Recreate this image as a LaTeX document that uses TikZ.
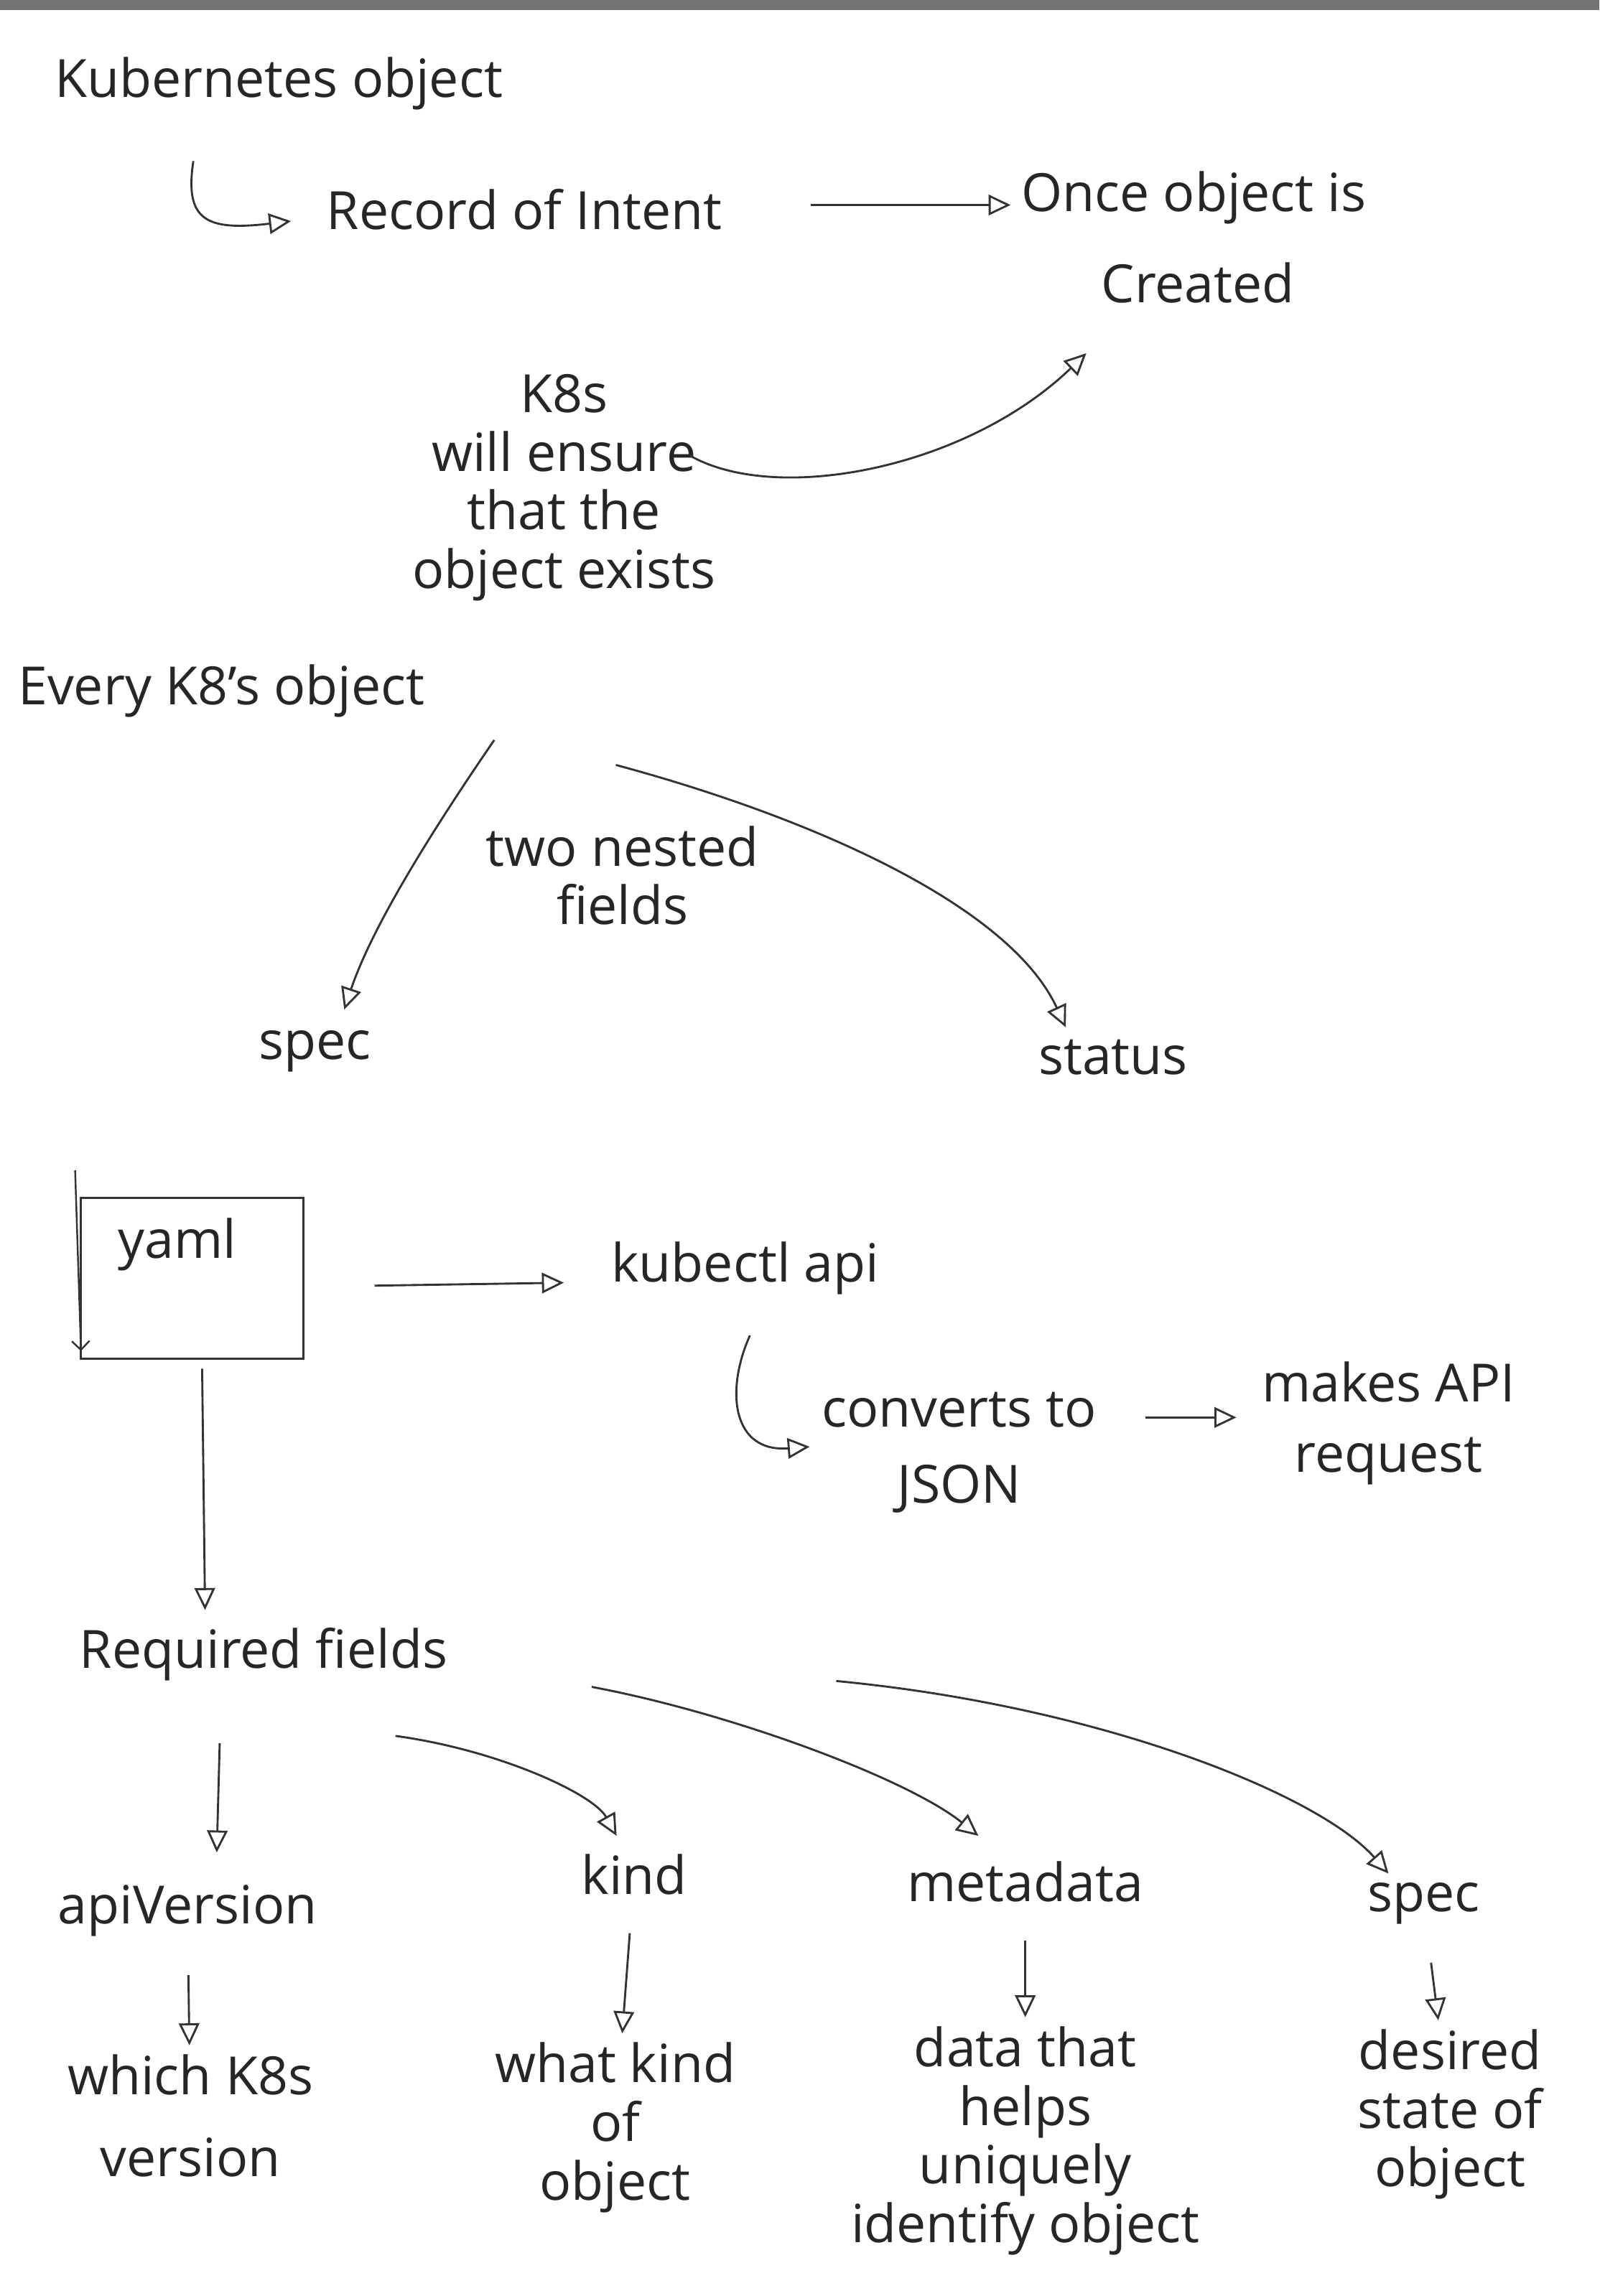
\documentclass[tikz,border=0pt]{standalone}
\usepackage{fontspec}
\setmainfont{Open Sans}
\usetikzlibrary{arrows.meta,calc}
\tikzset{
  hw/.style={font=\fontsize{18}{20}\selectfont, inner sep=1pt, text=black!85, align=center},
  hwarrow/.style={draw=black!80, line width=0.7pt, -{Triangle[open,length=7.5pt,width=7pt]}},
  downarrow/.style={hwarrow, shorten <=12pt, shorten >=2pt},
}

\begin{document}
\begin{tikzpicture}[x=0.5pt,y=-0.5pt]
\useasboundingbox (0,0) rectangle (1092,1568);
\fill[black!55] (0,0) rectangle (1092,7);

\node[hw, anchor=west] (title) at (35,57) {Kubernetes object};
\node[hw] (record) at (358,143) {Record of Intent};
\node[hw, anchor=west] (once) at (695,135) {Once object is};
\node[hw] (created) at (818,193) {Created};
\node[hw] (ensure) at (385,333) {K8s\\will ensure\\that the\\object exists};
\coordinate (hookA) at (132,110);
\draw[hwarrow] (hookA) .. controls (126,150) and (140,158) .. ($(record.west)+(-22,8)$);
\draw[hwarrow] ($(record.east)+(58,-3)$) -- ($(once.west)+(-5,5)$);
\draw[hwarrow] ($(ensure.east)+(-20,-22)$) .. controls (530,345) and (660,320) .. ($(created.south west)+(-8,32)$);

\node[hw, anchor=west] (every) at (10,472) {Every K8's object};
\node[hw] (nested) at (425,598) {two nested\\fields};
\node[hw] (spec) at (215,718) {spec};
\node[hw] (status) at (760,722) {status};
\draw[hwarrow] ($(every.south east)+(45,13)$) .. controls (300,560) and (255,630) .. ($(spec.north)+(20,-12)$);
\draw[hwarrow] ($(every.south east)+(128,30)$) .. controls (560,560) and (690,620) .. ($(status.north west)+(21,-6)$);

\node[draw=black!80, line width=0.7pt, minimum width=76pt, minimum height=55pt,
  label={[hw, anchor=north, yshift=-6pt, xshift=-5pt]north:yaml}] (yaml) at (131,873) {};
\draw[draw=black!80, line width=0.6pt, -{Straight Barb[length=3pt]}] ($(yaml.north west)+(-3,-18)$) -- ($(yaml.south west)+(1,-6)$);
\node[hw, anchor=west] (kubectl) at (415,866) {kubectl api};
\node[hw] (json) at (655,992) {converts to\\[6pt]JSON};
\node[hw] (apireq) at (948,972) {makes API\\[4pt]request};
\coordinate (hookB) at (512,912);
\draw[hwarrow] ($(yaml.east)+(48,5)$) -- ($(kubectl.west)+(-30,10)$);
\draw[hwarrow] (hookB) .. controls (495,950) and (500,992) .. ($(json.west)+(-6,-4)$);
\draw[hwarrow] ($(json.east)+(31,-24)$) -- ($(apireq.west)+(-15,-4)$);

\node[hw, anchor=west] (required) at (52,1130) {Required fields};
\draw[hwarrow] ($(yaml.south)+(7,6)$) -- ($(required.north west)+(88,-10)$);

\node[hw] (apiver) at (128,1305) {apiVersion};
\node[hw] (kind) at (433,1280) {kind};
\node[hw] (meta) at (700,1285) {metadata};
\node[hw] (specf) at (972,1300) {spec};
\draw[hwarrow] ($(required.south west)+(98,40)$) -- ($(apiver.north)+(20,-20)$);
\draw[hwarrow] ($(required.south west)+(218,35)$) .. controls (340,1195) and (405,1225) .. ($(kind.north)+(-12,-10)$);
\draw[hwarrow] ($(required.east)+(96,22)$) .. controls (500,1170) and (620,1215) .. ($(meta.north)+(-32,-15)$);
\draw[hwarrow] ($(required.east)+(263,18)$) .. controls (750,1165) and (900,1225) .. ($(specf.north)+(-24,-4)$);

\node[hw] (whichver) at (130,1445) {which K8s\\[8pt]version};
\node[hw] (whatkind) at (420,1453) {what kind\\of\\object};
\node[hw] (metadesc) at (700,1462) {data that\\helps\\uniquely\\identify object};
\node[hw] (desired) at (990,1444) {desired\\state of\\object};
\draw[downarrow] (apiver) -- (whichver);
\draw[downarrow] (kind) -- (whatkind);
\draw[downarrow] (meta) -- (metadesc);
\draw[downarrow] (specf) -- (desired);
\end{tikzpicture}
\end{document}
